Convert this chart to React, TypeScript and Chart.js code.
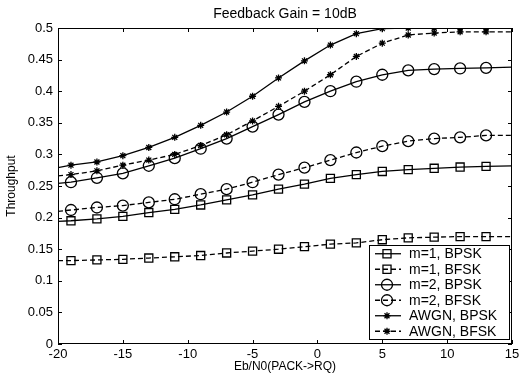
import React, { useEffect, useRef } from 'react';
import { Chart, registerables } from 'chart.js';
import { drawPoint } from 'chart.js/helpers';

Chart.register(...registerables);

const FONT = '"Liberation Sans", Arial, sans-serif';

const xValues = [-20, -19, -17, -15, -13, -11, -9, -7, -5, -3, -1, 1, 3, 5, 7, 9, 11, 13, 15];
const m1Bpsk = [0.194, 0.195, 0.198, 0.202, 0.208, 0.213, 0.220, 0.228, 0.236, 0.245, 0.253, 0.262, 0.268, 0.273, 0.276, 0.278, 0.280, 0.281, 0.282];
const m1Bfsk = [0.132, 0.132, 0.133, 0.134, 0.136, 0.138, 0.140, 0.144, 0.147, 0.150, 0.154, 0.158, 0.160, 0.165, 0.168, 0.169, 0.170, 0.170, 0.170];
const m2Bpsk = [0.254, 0.256, 0.263, 0.270, 0.282, 0.294, 0.309, 0.325, 0.344, 0.363, 0.383, 0.400, 0.415, 0.426, 0.433, 0.435, 0.436, 0.437, 0.438];
const m2Bfsk = [0.210, 0.212, 0.216, 0.219, 0.224, 0.229, 0.237, 0.245, 0.256, 0.268, 0.279, 0.291, 0.303, 0.313, 0.321, 0.325, 0.327, 0.330, 0.330];
const awgnBpsk = [0.279, 0.283, 0.288, 0.298, 0.311, 0.327, 0.346, 0.367, 0.392, 0.421, 0.448, 0.473, 0.491, 0.499, 0.5, 0.5, 0.5, 0.5, 0.5];
const awgnBfsk = [0.266, 0.268, 0.274, 0.283, 0.291, 0.300, 0.314, 0.331, 0.353, 0.376, 0.400, 0.426, 0.455, 0.476, 0.489, 0.492, 0.494, 0.494, 0.494];

const seriesLabels = ['m=1, BPSK', 'm=1, BFSK', 'm=2, BPSK', 'm=2, BFSK', 'AWGN, BPSK', 'AWGN, BFSK'];
const xTicks = [-20, -15, -10, -5, 0, 5, 10, 15];
const yTicks = [0, 0.05, 0.1, 0.15, 0.2, 0.25, 0.3, 0.35, 0.4, 0.45, 0.5];
const chartTitle = 'Feedback Gain = 10dB';

const DASH = [5, 3];

function mk(label: string, data: number[], dash: number[], style: string, radius: number) {
  const last = xValues.length - 1;
  return {
    label,
    data: xValues.map((x, i) => ({ x, y: data[i] })),
    borderColor: '#000',
    borderWidth: 1.3,
    borderDash: dash,
    pointStyle: style,
    pointRadius: (c: any) => (c.dataIndex === 0 || c.dataIndex === last ? 0 : radius),
    legendRadius: radius,
    pointBorderColor: '#000',
    pointBackgroundColor: 'rgba(0,0,0,0)',
    pointBorderWidth: 1.3,
    pointHoverRadius: 0,
    tension: 0,
    clip: 0,
    fill: false,
    showLine: true,
  };
}

const framePlugin = {
  id: 'frame',
  afterDatasetsDraw(chart: any) {
    const { ctx, chartArea } = chart;
    const { left, right, top, bottom } = chartArea;
    const xs = chart.scales.x;
    const ys = chart.scales.y;
    ctx.save();
    ctx.strokeStyle = '#000';
    ctx.lineWidth = 1;
    ctx.setLineDash([]);
    ctx.strokeRect(left + 0.5, top + 0.5, right - left - 1, bottom - top - 1);
    const TL = 4;
    ctx.beginPath();
    xTicks.forEach((v) => {
      const px = Math.round(xs.getPixelForValue(v)) + 0.5;
      ctx.moveTo(px, bottom);
      ctx.lineTo(px, bottom - TL);
      ctx.moveTo(px, top);
      ctx.lineTo(px, top + TL);
    });
    yTicks.forEach((v) => {
      const py = Math.round(ys.getPixelForValue(v)) + 0.5;
      ctx.moveTo(left, py);
      ctx.lineTo(left + TL, py);
      ctx.moveTo(right, py);
      ctx.lineTo(right - TL, py);
    });
    ctx.stroke();

    // title centred over the plot area
    ctx.fillStyle = '#000';
    ctx.font = `14px ${FONT}`;
    ctx.textAlign = 'center';
    ctx.textBaseline = 'middle';
    ctx.fillText(chartTitle, (left + right) / 2, 14);

    // legend
    const bw = 140;
    const rowH = 15.5;
    const n = chart.data.datasets.length;
    const bh = rowH * n + 1;
    const bx = right - 3 - bw;
    const by = bottom - 5 - bh;
    ctx.fillStyle = '#fff';
    ctx.fillRect(bx, by, bw, bh);
    ctx.strokeRect(Math.round(bx) + 0.5, Math.round(by) + 0.5, bw, bh);
    ctx.font = `14px ${FONT}`;
    ctx.textBaseline = 'middle';
    ctx.textAlign = 'left';
    chart.data.datasets.forEach((ds: any, i: number) => {
      const cy = by + rowH * (i + 0.5) + 1;
      ctx.lineWidth = 1.3;
      ctx.strokeStyle = '#000';
      ctx.setLineDash(ds.borderDash || []);
      ctx.beginPath();
      ctx.moveTo(bx + 6, cy);
      ctx.lineTo(bx + 32, cy);
      ctx.stroke();
      ctx.setLineDash([]);
      ctx.fillStyle = 'rgba(0,0,0,0)';
      drawPoint(ctx, { pointStyle: ds.pointStyle, radius: ds.legendRadius, borderWidth: 1.3, rotation: 0 } as any, bx + 18, cy);
      ctx.fillStyle = '#000';
      ctx.fillText(ds.label, bx + 40, cy + 0.5);
    });
    ctx.restore();
  },
};

export default function App() {
  const ref = useRef<HTMLCanvasElement>(null);
  useEffect(() => {
    if (!ref.current) return;
    Chart.defaults.font.family = FONT;
    const chart = new Chart(ref.current, {
      type: 'scatter',
      data: {
        datasets: [
          mk(seriesLabels[0], m1Bpsk, [], 'rect', 5.7),
          mk(seriesLabels[1], m1Bfsk, DASH, 'rect', 5.7),
          mk(seriesLabels[2], m2Bpsk, [], 'circle', 5.5),
          mk(seriesLabels[3], m2Bfsk, DASH, 'circle', 5.5),
          mk(seriesLabels[4], awgnBpsk, [], 'star', 3.5),
          mk(seriesLabels[5], awgnBfsk, DASH, 'star', 3.5),
        ] as any,
      },
      options: {
        animation: false,
        responsive: false,
        layout: { padding: { left: 0, right: 20, top: 28, bottom: 0 } },
        plugins: {
          legend: { display: false },
          tooltip: { enabled: false },
          title: { display: false },
        },
        scales: {
          x: {
            type: 'linear',
            min: -20,
            max: 15,
            afterBuildTicks: (s: any) => { s.ticks = xTicks.map((v) => ({ value: v })); },
            ticks: { color: '#000', font: { family: FONT, size: 13 }, padding: 3, maxRotation: 0, autoSkip: false },
            grid: { display: false, drawTicks: false },
            border: { display: false },
            title: { display: true, text: 'Eb/N0(PACK->RQ)', color: '#000', font: { family: FONT, size: 12 }, padding: { top: 0, bottom: 8 } },
            afterFit: (s: any) => { s.height = 38; },
          },
          y: {
            type: 'linear',
            min: 0,
            max: 0.5,
            afterBuildTicks: (s: any) => { s.ticks = yTicks.map((v) => ({ value: v })); },
            ticks: {
              color: '#000',
              font: { family: FONT, size: 13 },
              padding: 5,
              autoSkip: false,
              callback: (v: any) => String(Number(Number(v).toFixed(2))),
            },
            grid: { display: false, drawTicks: false },
            border: { display: false },
            title: { display: true, text: 'Throughput', color: '#000', font: { family: FONT, size: 12 }, padding: { top: 4, bottom: 0 } },
            afterFit: (s: any) => { s.width = 58; },
          },
        },
      } as any,
      plugins: [framePlugin],
    });
    return () => chart.destroy();
  }, []);
  return (
    <div style={{ position: 'absolute', left: 0, top: 0, width: 532, height: 382, background: '#fff' }}>
      <canvas ref={ref} width={532} height={382} style={{ display: 'block', width: 532, height: 382 }} />
    </div>
  );
}
